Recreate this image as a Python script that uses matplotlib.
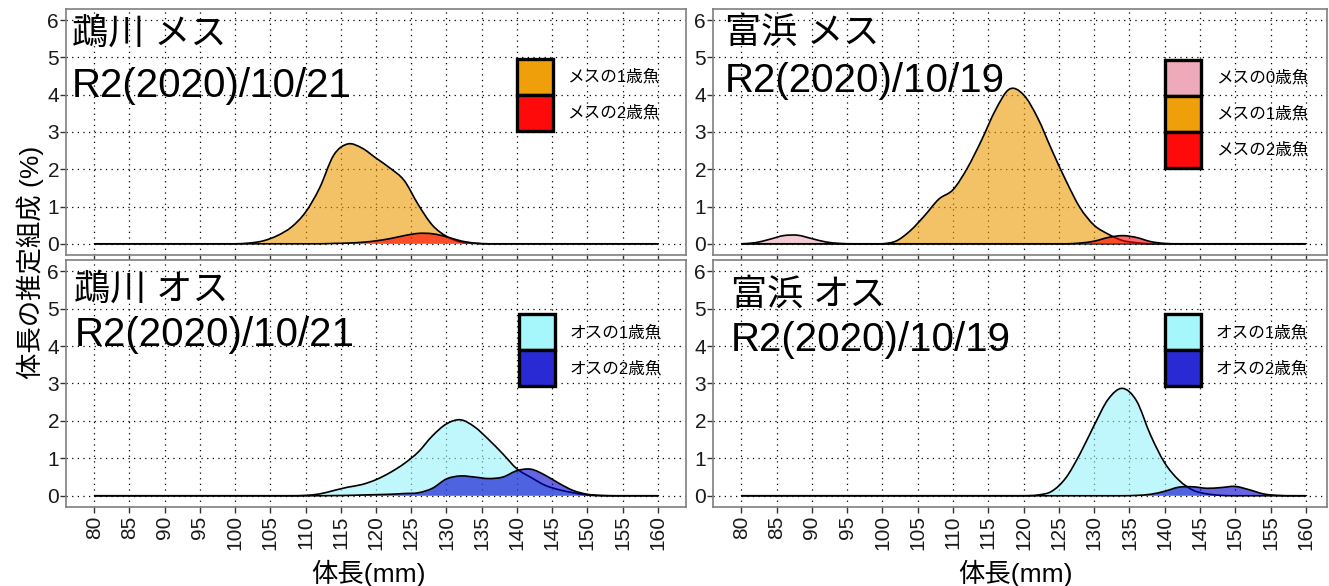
import numpy as np
import matplotlib
matplotlib.use("Agg")
import matplotlib.pyplot as plt
from matplotlib import font_manager
from matplotlib.path import Path
from matplotlib.patches import PathPatch, Patch

# フォント: 細身の欧文 + 日本語
names = {f.name for f in font_manager.fontManager.ttflist}
latin = "Liberation Sans Narrow" if "Liberation Sans Narrow" in names else "Liberation Sans"
FONTS = [latin, "Noto Sans CJK JP", "DejaVu Sans"]
plt.rcParams["font.family"] = FONTS

# 体長 (mm)
body_length = np.arange(80, 161, 2)

# 鵡川 メス (%)
mukawa_f1 = [0, 0, 0, 0, 0, 0, 0, 0, 0, 0,
             0.0, 0.02, 0.08, 0.22, 0.45, 0.85, 1.5, 2.38, 2.68, 2.57,
             2.3, 2.03, 1.7, 1.05, 0.5, 0.2, 0.05, 0.01,
             0, 0, 0, 0, 0, 0, 0, 0, 0, 0, 0, 0, 0]
mukawa_f2 = [0, 0, 0, 0, 0, 0, 0, 0, 0, 0, 0, 0, 0, 0, 0, 0,
             0.0, 0.01, 0.02, 0.04, 0.08, 0.14, 0.22, 0.28, 0.27, 0.19,
             0.08, 0.02, 0.0,
             0, 0, 0, 0, 0, 0, 0, 0, 0, 0, 0, 0]
# 富浜 メス (%)
tomihama_f0 = [0.0, 0.03, 0.12, 0.22, 0.23, 0.14, 0.05, 0.01,
               0, 0, 0, 0, 0, 0, 0, 0, 0, 0, 0, 0, 0, 0, 0, 0, 0, 0, 0,
               0, 0, 0, 0, 0, 0, 0, 0, 0, 0, 0, 0, 0, 0]
tomihama_f1 = [0, 0, 0, 0, 0, 0, 0, 0, 0, 0,
               0.0, 0.08, 0.36, 0.76, 1.2, 1.45, 2.02, 2.76, 3.58, 4.15,
               4.0, 3.38, 2.52, 1.7, 0.97, 0.5, 0.26, 0.09, 0.03, 0.0,
               0, 0, 0, 0, 0, 0, 0, 0, 0, 0, 0]
tomihama_f2 = [0, 0, 0, 0, 0, 0, 0, 0, 0, 0, 0, 0, 0, 0, 0, 0, 0, 0, 0, 0,
               0, 0, 0,
               0.0, 0.02, 0.07, 0.17, 0.22, 0.17, 0.06, 0.01, 0.0,
               0, 0, 0, 0, 0, 0, 0, 0, 0]
# 鵡川 オス (%)
mukawa_m1 = [0, 0, 0, 0, 0, 0, 0, 0, 0, 0, 0, 0, 0, 0,
             0.0, 0.01, 0.05, 0.14, 0.23, 0.3, 0.43, 0.62, 0.86, 1.17,
             1.6, 1.92, 2.03, 1.84, 1.5, 1.12, 0.72, 0.49, 0.28, 0.16,
             0.08, 0.02, 0.0,
             0, 0, 0, 0]
mukawa_m2 = [0, 0, 0, 0, 0, 0, 0, 0, 0, 0, 0, 0, 0, 0, 0, 0,
             0.0, 0.005, 0.01, 0.02, 0.03, 0.04, 0.06, 0.08, 0.2, 0.45,
             0.53, 0.5, 0.46, 0.5, 0.67, 0.71, 0.55, 0.33, 0.14, 0.04,
             0.01, 0.0,
             0, 0, 0]
# 富浜 オス (%)
tomihama_m1 = [0, 0, 0, 0, 0, 0, 0, 0, 0, 0, 0, 0, 0, 0, 0, 0, 0, 0, 0, 0,
               0.0, 0.02, 0.12, 0.48, 1.12, 1.88, 2.58, 2.87, 2.54, 1.62,
               0.88, 0.42, 0.15, 0.05, 0.01, 0.0,
               0, 0, 0, 0, 0]
tomihama_m2 = [0, 0, 0, 0, 0, 0, 0, 0, 0, 0, 0, 0, 0, 0, 0, 0, 0, 0, 0, 0,
               0, 0, 0, 0, 0, 0, 0,
               0.0, 0.01, 0.04, 0.12, 0.23, 0.24, 0.2, 0.22, 0.25, 0.16,
               0.05, 0.01, 0.0, 0]

# 凡例ラベル
f_labels = ["メスの0歳魚", "メスの1歳魚", "メスの2歳魚"]
m_labels = ["オスの1歳魚", "オスの2歳魚"]

# 色 (塗り, 凡例キー)
fill_col = {"pink": "#EEA9B8", "orange": "#EE9A00", "red": "#FF0000",
            "cyan": "#96F3FA", "blue": "#0000CD"}
key_col = {"pink": "#EEAAB8", "orange": "#EF9F0A", "red": "#FF0A0A",
           "cyan": "#A6F7FB", "blue": "#2A2AD4"}

panels = [
    dict(rect=[66, 9, 686, 255], place="鵡川 メス", date="R2(2020)/10/21",
         series=[(mukawa_f1, "orange"), (mukawa_f2, "red")],
         legend=[(f_labels[1], "orange"), (f_labels[2], "red")],
         leg_at=(0.727, 0.797), txt=(76.8, 5.62, 3.94)),
    dict(rect=[713, 9, 1327, 255], place="富浜 メス", date="R2(2020)/10/19",
         series=[(tomihama_f0, "pink"), (tomihama_f1, "orange"), (tomihama_f2, "red")],
         legend=[(f_labels[0], "pink"), (f_labels[1], "orange"), (f_labels[2], "red")],
         leg_at=(0.736, 0.793), txt=(77.7, 5.64, 4.07)),
    dict(rect=[66, 260, 686, 507], place="鵡川 オス", date="R2(2020)/10/21",
         series=[(mukawa_m1, "cyan"), (mukawa_m2, "blue")],
         legend=[(m_labels[0], "cyan"), (m_labels[1], "blue")],
         leg_at=(0.731, 0.781), txt=(77.2, 5.49, 4.0)),
    dict(rect=[713, 260, 1327, 507], place="富浜 オス", date="R2(2020)/10/19",
         series=[(tomihama_m1, "cyan"), (tomihama_m2, "blue")],
         legend=[(m_labels[0], "cyan"), (m_labels[1], "blue")],
         leg_at=(0.736, 0.781), txt=(78.5, 5.35, 3.87)),
]

W, H = 1329, 586


def smooth(x, y):
    # Catmull-Rom を3次ベジェに変換したパス
    x = np.asarray(x, float)
    y = np.asarray(y, float)
    n = len(x)
    verts = [(x[0], y[0])]
    codes = [Path.MOVETO]
    for i in range(n - 1):
        i0, i2 = max(i - 1, 0), min(i + 2, n - 1)
        c1 = (x[i] + (x[i + 1] - x[i0]) / 6, max(y[i] + (y[i + 1] - y[i0]) / 6, 0))
        c2 = (x[i + 1] - (x[i2] - x[i]) / 6, max(y[i + 1] - (y[i2] - y[i]) / 6, 0))
        verts += [c1, c2, (x[i + 1], y[i + 1])]
        codes += [Path.CURVE4] * 3
    return verts, codes


fig = plt.figure(figsize=(W / 100, H / 100), dpi=100)

for p in panels:
    x0, y0, x1, y1 = p["rect"]
    ax = fig.add_axes([x0 / W, 1 - y1 / H, (x1 - x0) / W, (y1 - y0) / H])
    right = x0 > 700
    ax.set_xlim(76, 163.0 if right else 164)
    ax.set_ylim(-0.3, 6.3)
    ax.set_xticks(np.arange(80, 161, 5))
    ax.set_yticks(np.arange(0, 7, 1))
    ax.grid(True, color="black", linestyle=(0, (1, 3.5)), linewidth=0.9)
    ax.set_axisbelow(True)
    for s in ax.spines.values():
        s.set_color("#7F7F7F")
        s.set_linewidth(1.2)
    ax.tick_params(axis="both", direction="out", length=4, width=1,
                   color="#333333", labelcolor="#1A1A1A")
    ax.tick_params(axis="y", labelsize=15, pad=1)
    ax.tick_params(axis="x", labelsize=15, labelrotation=90, pad=2)
    if y0 < 100:
        ax.set_xticklabels([])

    for vals, c in p["series"]:
        v, cd = smooth(body_length, vals)
        fill_v = v + [(body_length[-1], 0), (body_length[0], 0), (body_length[0], 0)]
        fill_c = cd + [Path.LINETO, Path.LINETO, Path.CLOSEPOLY]
        ax.add_patch(PathPatch(Path(fill_v, fill_c), facecolor=fill_col[c],
                               alpha=0.6, edgecolor="none", zorder=2))
        ax.add_patch(PathPatch(Path(v, cd), facecolor="none", edgecolor="black",
                               linewidth=1.2, zorder=2))

    tx, ty1, ty2 = p["txt"]
    ax.text(tx, ty1, p["place"], fontsize=26, va="center", ha="left", zorder=4)
    ax.text(tx, ty2, p["date"], fontsize=29, va="baseline", ha="left", zorder=4)

    handles = [Patch(facecolor=key_col[c], edgecolor="black", linewidth=2.4, label=l)
               for l, c in p["legend"]]
    ax.legend(handles=handles, loc="upper left", bbox_to_anchor=p["leg_at"],
              borderaxespad=0, borderpad=0, frameon=False,
              handlelength=2.15, handleheight=2.95, labelspacing=0,
              handletextpad=0.9, prop={"family": FONTS, "size": 12})

fig.text(30 / W, 1 - 262 / H, "体長の推定組成 (%)", rotation=90, fontsize=19,
         ha="center", va="center")
fig.text(368 / W, 1 - 573 / H, "体長(mm)", fontsize=19, ha="center", va="center")
fig.text(1015 / W, 1 - 573 / H, "体長(mm)", fontsize=19, ha="center", va="center")

fig.savefig("out.png", dpi=100)
